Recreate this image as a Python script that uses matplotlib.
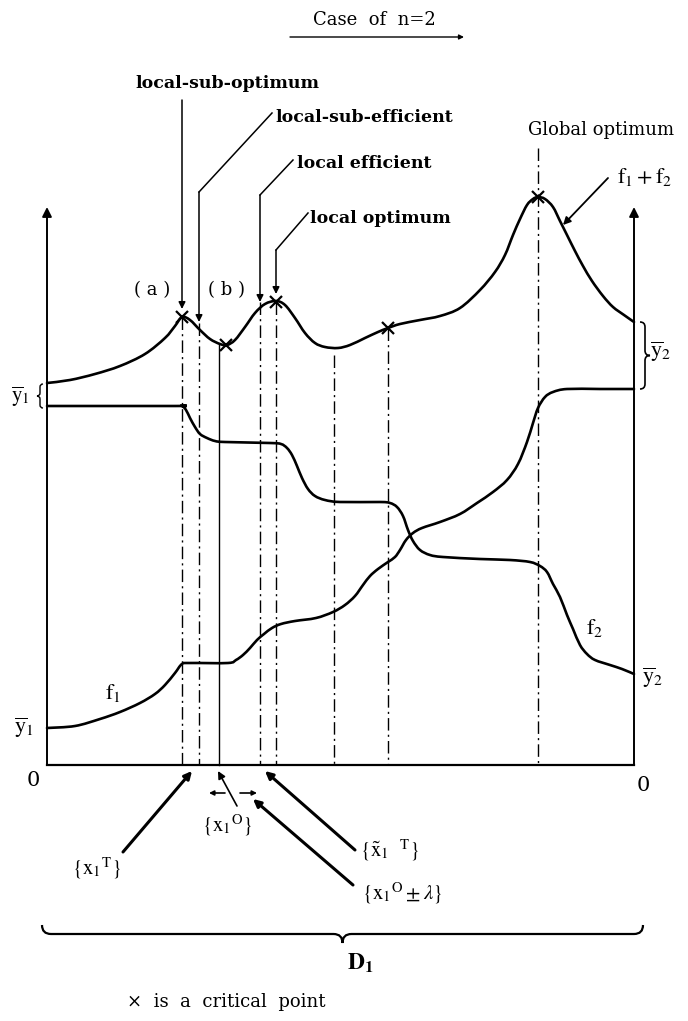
import numpy as np
import matplotlib.pyplot as plt
from matplotlib.path import Path
from matplotlib.patches import PathPatch

plt.rcParams['font.family'] = ['DejaVu Serif', 'DejaVu Sans']
plt.rcParams['mathtext.fontset'] = 'stix'

W, H = 688, 1021

# curves (x to the right, y downward, page pixels)
sum_x = [47, 70, 95, 120, 145, 165, 175, 182, 190, 200, 210, 220, 227, 235, 245, 255, 265, 276,
         285, 295, 305, 315, 325, 338, 350, 365, 378, 388, 400, 420, 440, 460, 480, 495, 505,
         513, 520, 527, 533, 538, 545, 553, 560, 567, 575, 583, 592, 603, 613, 624, 634]
sum_y = [383, 380, 374, 366, 354, 338, 326, 317, 320, 330, 339, 344, 345, 340, 327, 313, 304, 301,
         305, 318, 333, 343, 347, 348, 345, 338, 332, 328, 324, 320, 316, 308, 290, 272, 255,
         235, 219, 205, 199, 197, 199, 207, 221, 235, 251, 266, 281, 296, 307, 315, 322]

f2_x = [47, 175, 182, 186, 190, 195, 200, 207, 215, 225, 270, 281, 287, 292, 297, 302, 308, 315,
        325, 340, 380, 390, 397, 403, 408, 413, 420, 430, 443, 480, 510, 530, 540, 547, 553,
        560, 567, 573, 580, 587, 595, 610, 622, 634]
f2_y = [406, 406, 406, 410, 418, 427, 434, 438, 441, 442, 443, 444, 448, 455, 466, 478, 489, 496,
        500, 502, 502, 503, 507, 516, 530, 541, 550, 555, 557, 559, 560, 562, 566, 572, 584,
        597, 615, 629, 645, 654, 660, 665, 669, 674]

f1_x = [47, 75, 100, 120, 140, 155, 165, 175, 182, 190, 228, 236, 243, 250, 257, 264, 272, 281,
        295, 316, 333, 345, 355, 363, 370, 378, 388, 395, 400, 406, 413, 422, 440, 460, 477,
        493, 507, 518, 527, 533, 538, 545, 553, 567, 600, 634]
f1_y = [728, 726, 719, 712, 703, 694, 685, 673, 664, 663, 663, 660, 655, 648, 640, 634, 628, 624,
        621, 618, 612, 605, 596, 585, 576, 569, 562, 557, 550, 540, 533, 528, 522, 514, 503,
        492, 480, 464, 442, 423, 408, 397, 392, 389, 389, 389]

# critical points (x marks)
crit_x = [182, 226, 276, 388, 538]
crit_y = [317, 345, 302, 328, 197]

# vertical guide lines
guide_x = [182, 199, 219, 260, 276, 334, 388, 538]
guide_top = [317, 323, 345, 302, 302, 355, 328, 148]
guide_solid = [False, False, True, False, False, False, False, False]

# frame
left_x, right_x, base_y, top_y = 47, 634, 765, 207

# labels with leader lines (polyline ending in an arrow)
callout_text = ['local-sub-optimum', 'local-sub-efficient', 'local efficient', 'local optimum']
callout_xy = [(135, 83), (275, 118), (297, 163), (310, 218)]
callout_path = [[(182, 100), (182, 309)],
                [(272, 113), (199, 192), (199, 322)],
                [(293, 160), (260, 195), (260, 302)],
                [(308, 213), (276, 250), (276, 294)]]

# arrows under the base line
low_text = [r'$\{\mathrm{x}_1{}^{\mathrm{T}}\}$', r'$\{\mathrm{x}_1{}^{\mathrm{O}}\}$',
            r'$\{\tilde{\mathrm{x}}_1\ \ {}^{\mathrm{T}}\}$', r'$\{\mathrm{x}_1{}^{\mathrm{O}}\pm\lambda\}$']
low_text_xy = [(72, 868), (202, 825), (360, 850), (362, 893)]
low_from = [(123, 852), (237, 806), (355, 850), (353, 885)]
low_to = [(192, 771), (218, 771), (265, 771), (253, 799)]
low_lw = [2.2, 1.2, 2.2, 2.2]


def smooth(xs, ys):
    # Catmull-Rom through the read points, drawn as cubic Bezier segments
    p = np.column_stack([xs, ys]).astype(float)
    verts = [p[0]]
    codes = [Path.MOVETO]
    n = len(p)
    for i in range(n - 1):
        p0 = p[max(i - 1, 0)]
        p1 = p[i]
        p2 = p[i + 1]
        p3 = p[min(i + 2, n - 1)]
        verts += [p1 + (p2 - p0) / 6.0, p2 - (p3 - p1) / 6.0, p2]
        codes += [Path.CURVE4] * 3
    return Path(verts, codes)


def brace(ax, a, b, c, d, along='x', lw=1.4):
    # curly brace from a to b at position c, bulging by d
    m = (a + b) / 2.0
    h = d / 2.0
    s = np.sign(b - a)
    pts = [(a, c), (a, c + h), (a + s * abs(h), c + h), (m - s * abs(h), c + h), (m, c + h), (m, c + d),
           (m, c + h), (m + s * abs(h), c + h), (b - s * abs(h), c + h), (b, c + h), (b, c)]
    codes = [Path.MOVETO, Path.CURVE3, Path.CURVE3, Path.LINETO, Path.CURVE3, Path.CURVE3,
             Path.CURVE3, Path.CURVE3, Path.LINETO, Path.CURVE3, Path.CURVE3]
    if along == 'y':
        pts = [(q, p) for p, q in pts]
    ax.add_patch(PathPatch(Path(pts, codes), fill=False, lw=lw, color='black'))


fig = plt.figure(figsize=(W / 100, H / 100), dpi=100)
ax = fig.add_axes([0, 0, 1, 1])
ax.set_xlim(0, W)
ax.set_ylim(H, 0)
ax.axis('off')

k = 'black'
arrow = dict(arrowstyle='-|>', color=k, lw=1.4, mutation_scale=14, shrinkA=0, shrinkB=0)

# title
ax.text(374, 20, 'Case  of  n=2', ha='center', va='center', fontsize=13)
ax.annotate('', xy=(464, 37), xytext=(290, 37),
            arrowprops=dict(arrowstyle='-|>', color=k, lw=1.0, mutation_scale=7, shrinkA=0, shrinkB=0))

# frame: two upward axes and base
ax.plot([left_x, right_x], [base_y, base_y], color=k, lw=1.6)
ax.annotate('', xy=(left_x, top_y), xytext=(left_x, base_y), arrowprops=arrow)
ax.annotate('', xy=(right_x, top_y), xytext=(right_x, base_y), arrowprops=arrow)

# guide lines
for gx, gt, solid in zip(guide_x, guide_top, guide_solid):
    ax.plot([gx, gx], [gt, base_y], color=k, lw=1.0,
            linestyle='-' if solid else (0, (9, 3, 1.5, 3)))

# curves
for cx, cy in [(sum_x, sum_y), (f1_x, f1_y), (f2_x, f2_y)]:
    ax.add_patch(PathPatch(smooth(cx, cy), fill=False, lw=1.9, color=k, capstyle='round'))
ax.plot(crit_x, crit_y, 'x', color=k, ms=8, mew=1.6)

# callouts at the top
for txt, (tx, ty), path in zip(callout_text, callout_xy, callout_path):
    ax.text(tx, ty, txt, ha='left', va='center', fontsize=12.5, fontweight='bold')
    px = [p[0] for p in path]
    py = [p[1] for p in path]
    ax.plot(px[:-1], py[:-1], color=k, lw=1.1)
    ax.annotate('', xy=path[-1], xytext=path[-2],
                arrowprops=dict(arrowstyle='-|>', color=k, lw=1.1, mutation_scale=10,
                                shrinkA=0, shrinkB=0))

ax.text(528, 130, 'Global optimum', ha='left', va='center', fontsize=13)
ax.text(617, 177, r'$\mathrm{f_1+f_2}$', ha='left', va='center', fontsize=16)
ax.annotate('', xy=(563, 225), xytext=(608, 178),
            arrowprops=dict(arrowstyle='-|>', color=k, lw=1.3, mutation_scale=11, shrinkA=0, shrinkB=0))

ax.text(152, 290, '( a )', ha='center', va='center', fontsize=13)
ax.text(226, 290, '( b )', ha='center', va='center', fontsize=13)

# side labels
ax.text(20, 397, r'$\overline{\mathrm{y}}_1$', ha='center', va='center', fontsize=15)
brace(ax, 384, 408, 43, -6, along='y', lw=1.0)
brace(ax, 322, 389, 640, 10, along='y', lw=1.2)
ax.text(660, 352, r'$\overline{\mathrm{y}}_2$', ha='center', va='center', fontsize=16)
ax.text(24, 728, r'$\overline{\mathrm{y}}_1$', ha='center', va='center', fontsize=16)
ax.text(652, 678, r'$\overline{\mathrm{y}}_2$', ha='center', va='center', fontsize=16)
ax.text(113, 693, r'$\mathrm{f_1}$', ha='center', va='center', fontsize=16)
ax.text(595, 628, r'$\mathrm{f_2}$', ha='center', va='center', fontsize=16)
ax.text(33, 780, '0', ha='center', va='center', fontsize=15)
ax.text(643, 785, '0', ha='center', va='center', fontsize=15)

# arrows under the base line
for txt, txy, a0, a1, lw in zip(low_text, low_text_xy, low_from, low_to, low_lw):
    ax.text(txy[0], txy[1], txt, ha='left', va='center', fontsize=15)
    ax.annotate('', xy=a1, xytext=a0,
                arrowprops=dict(arrowstyle='-|>', color=k, lw=lw, mutation_scale=11,
                                shrinkA=0, shrinkB=0))
ax.annotate('', xy=(209, 793), xytext=(225, 793),
            arrowprops=dict(arrowstyle='-|>', color=k, lw=1.2, mutation_scale=7, shrinkA=0, shrinkB=0))
ax.annotate('', xy=(257, 793), xytext=(240, 793),
            arrowprops=dict(arrowstyle='-|>', color=k, lw=1.2, mutation_scale=7, shrinkA=0, shrinkB=0))

# domain brace
brace(ax, 42, 643, 925, 18, along='x', lw=1.6)
ax.text(360, 963, r'$\mathbf{D}_{\mathbf{1}}$', ha='center', va='center', fontsize=17)
ax.text(127, 1002, '×  is  a  critical  point', ha='left', va='center', fontsize=13)

fig.savefig('out.png', dpi=100)
